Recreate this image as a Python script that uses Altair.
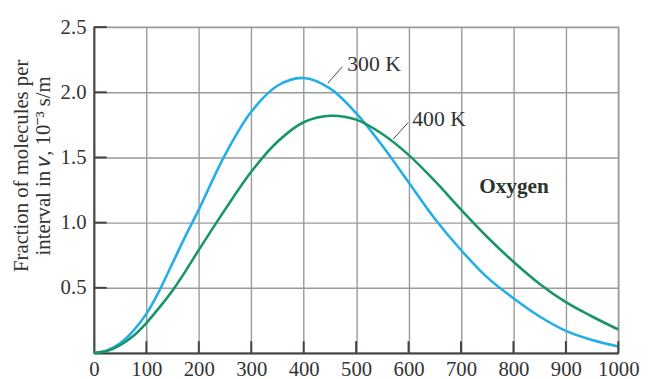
import altair as alt
import pandas as pd

# speeds (m/s) and fraction per interval (10^-3 s/m)
speed = [0, 25, 50, 75, 100, 125, 150, 175, 200, 250, 300, 350, 400, 450, 500,
         550, 600, 650, 700, 750, 800, 850, 900, 950, 1000]
f_300K = [0, 0.02, 0.075, 0.17, 0.30, 0.48, 0.69, 0.90, 1.10, 1.52, 1.85, 2.05, 2.11,
          2.03, 1.84, 1.59, 1.31, 1.03, 0.79, 0.58, 0.42, 0.28, 0.17, 0.10, 0.05]
f_400K = [0, 0.015, 0.06, 0.13, 0.23, 0.35, 0.48, 0.63, 0.79, 1.10, 1.39, 1.62, 1.77,
          1.82, 1.79, 1.68, 1.52, 1.32, 1.10, 0.89, 0.70, 0.53, 0.39, 0.28, 0.18]

series_names = ["300 K", "400 K"]
series_colors = ["#22AEE6", "#17956A"]

x_ticks = [0, 100, 200, 300, 400, 500, 600, 700, 800, 900, 1000]
y_ticks = [0, 0.5, 1.0, 1.5, 2.0, 2.5]

# annotation positions (data coordinates)
label_text = ["300 K", "400 K"]
label_x = [483, 607]
label_y = [2.164, 1.742]
leader_x1 = [446, 571]
leader_y1 = [2.07, 1.642]
leader_x2 = [474, 599]
leader_y2 = [2.197, 1.767]
note_text = ["Oxygen"]
note_x = [801]
note_y = [1.27]

FONT = "Liberation Serif"
TXT = "#333333"

rows = []
for s, v in zip(speed, f_300K):
    rows.append({"v": s, "f": v, "T": "300 K"})
for s, v in zip(speed, f_400K):
    rows.append({"v": s, "f": v, "T": "400 K"})
curves = pd.DataFrame(rows)

xscale = alt.Scale(domain=[0, 1000], nice=False, zero=False)
yscale = alt.Scale(domain=[0, 2.5], nice=False)

xaxis = alt.Axis(values=x_ticks, title=None, ticks=False, labelFont=FONT,
                 labelFontSize=21, labelColor=TXT, labelPadding=6,
                 labelExpr="format(datum.value, 'd')",
                 domainColor="#444444", domainWidth=2,
                 gridColor="#9a9a9a", gridWidth=1.4, gridOpacity=1,
                 labelFlush=False)
yaxis = alt.Axis(values=y_ticks, ticks=False, labelFont=FONT, labelFontSize=21,
                 labelColor=TXT, labelPadding=8,
                 labelExpr="datum.value == 0 ? '' : format(datum.value, '.1f')",
                 domainColor="#444444", domainWidth=2,
                 gridColor="#9a9a9a", gridWidth=1.4, gridOpacity=1,
                 title=["Fraction of molecules per", "interval in 𝑣, 10⁻³ s/m"],
                 titleFont=FONT, titleFontSize=21, titleFontWeight="normal",
                 titleColor=TXT, titleLineHeight=22, titleAngle=270,
                 titleX=-73, titleY=140, titleAlign="center",
                 titleBaseline="middle")

lines = alt.Chart(curves).mark_line(strokeWidth=2.6, interpolate="catmull-rom").encode(
    x=alt.X("v:Q", scale=xscale, axis=xaxis),
    y=alt.Y("f:Q", scale=yscale, axis=yaxis),
    color=alt.Color("T:N", scale=alt.Scale(domain=series_names, range=series_colors),
                    legend=None),
)

ytick_df = pd.DataFrame({"y": y_ticks[1:]})
ytick_marks = alt.Chart(ytick_df).mark_rule(color="#444444", strokeWidth=2).encode(
    y=alt.Y("y:Q", scale=yscale),
    x=alt.value(0), x2=alt.value(13),
)
xtick_df = pd.DataFrame({"x": x_ticks[1:]})
xtick_marks = alt.Chart(xtick_df).mark_rule(color="#444444", strokeWidth=2).encode(
    x=alt.X("x:Q", scale=xscale),
    y=alt.value(330), y2=alt.value(318),
)

lead_df = pd.DataFrame({"x1": leader_x1, "y1": leader_y1,
                        "x2": leader_x2, "y2": leader_y2})
leaders = alt.Chart(lead_df).mark_rule(color="#444444", strokeWidth=1).encode(
    x=alt.X("x1:Q", scale=xscale), y=alt.Y("y1:Q", scale=yscale),
    x2="x2:Q", y2="y2:Q",
)

lab_df = pd.DataFrame({"t": label_text, "x": label_x, "y": label_y})
labels = alt.Chart(lab_df).mark_text(font=FONT, fontSize=22, color=TXT,
                                     align="left", baseline="alphabetic").encode(
    x=alt.X("x:Q", scale=xscale), y=alt.Y("y:Q", scale=yscale), text="t:N",
)

note_df = pd.DataFrame({"t": note_text, "x": note_x, "y": note_y})
note = alt.Chart(note_df).mark_text(font=FONT, fontSize=21.5, fontWeight="bold",
                                    color="#2b3530", align="center",
                                    baseline="middle").encode(
    x=alt.X("x:Q", scale=xscale), y=alt.Y("y:Q", scale=yscale), text="t:N",
)

chart = alt.layer(lines, ytick_marks, xtick_marks, leaders, labels, note).properties(
    width=531, height=330,
    autosize=alt.AutoSizeParams(type="none"),
    padding={"left": 87, "top": 17, "right": 25, "bottom": 24},
).configure_view(stroke="#9a9a9a", strokeWidth=1.4)

chart.save("out.html", embed_options={"renderer": "svg", "actions": False})
